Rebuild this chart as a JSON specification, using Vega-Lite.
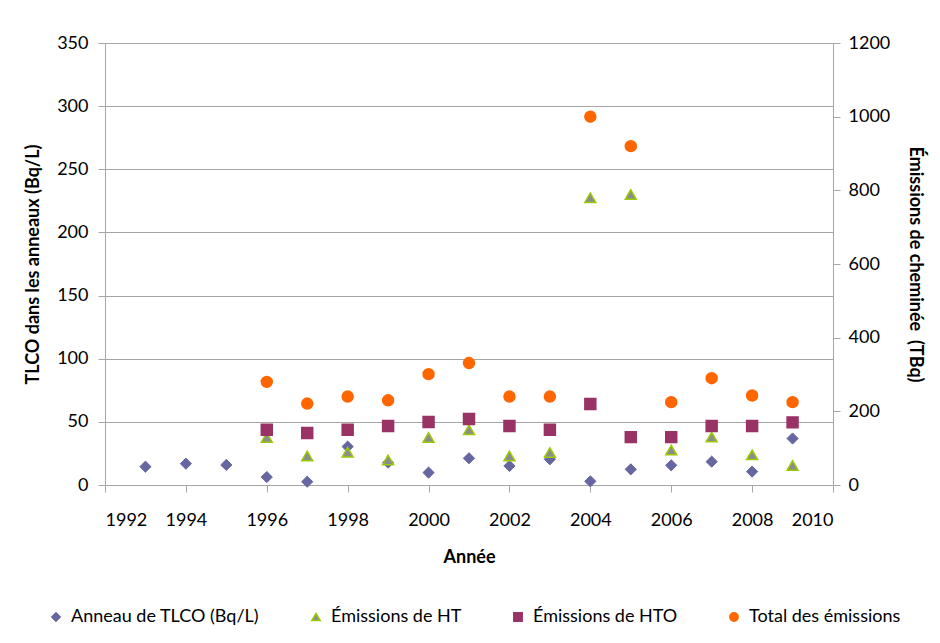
{
  "$schema": "https://vega.github.io/schema/vega-lite/v6.json",
  "autosize": "none",
  "width": 728,
  "height": 442,
  "padding": {"left": 105, "top": 43, "right": 107, "bottom": 158},
  "background": "white",
  "config": {
    "font": "Lato",
    "view": {"stroke": null},
    "axis": {
      "labelFont": "Lato",
      "titleFont": "Lato",
      "labelFontSize": 18,
      "titleFontSize": 18,
      "labelColor": "#000000",
      "titleColor": "#000000",
      "titleFontWeight": "bold",
      "domainColor": "#A6A6A6",
      "tickColor": "#A6A6A6",
      "gridColor": "#A6A6A6",
      "tickSize": 7
    }
  },
  "data": {
    "values": [
      {"annee": 1993, "serie": "Anneau de TLCO (Bq/L)", "valeur": 14.5},
      {"annee": 1994, "serie": "Anneau de TLCO (Bq/L)", "valeur": 16.9},
      {"annee": 1995, "serie": "Anneau de TLCO (Bq/L)", "valeur": 15.9},
      {"annee": 1996, "serie": "Anneau de TLCO (Bq/L)", "valeur": 6.3},
      {"annee": 1997, "serie": "Anneau de TLCO (Bq/L)", "valeur": 2.6},
      {"annee": 1998, "serie": "Anneau de TLCO (Bq/L)", "valeur": 30.4},
      {"annee": 1999, "serie": "Anneau de TLCO (Bq/L)", "valeur": 17.7},
      {"annee": 2000, "serie": "Anneau de TLCO (Bq/L)", "valeur": 9.8},
      {"annee": 2001, "serie": "Anneau de TLCO (Bq/L)", "valeur": 21.2},
      {"annee": 2002, "serie": "Anneau de TLCO (Bq/L)", "valeur": 15.1},
      {"annee": 2003, "serie": "Anneau de TLCO (Bq/L)", "valeur": 20.4},
      {"annee": 2004, "serie": "Anneau de TLCO (Bq/L)", "valeur": 2.9},
      {"annee": 2005, "serie": "Anneau de TLCO (Bq/L)", "valeur": 12.4},
      {"annee": 2006, "serie": "Anneau de TLCO (Bq/L)", "valeur": 15.6},
      {"annee": 2007, "serie": "Anneau de TLCO (Bq/L)", "valeur": 18.5},
      {"annee": 2008, "serie": "Anneau de TLCO (Bq/L)", "valeur": 10.6},
      {"annee": 2009, "serie": "Anneau de TLCO (Bq/L)", "valeur": 36.8},
      {"annee": 1996, "serie": "Émissions de HT", "valeur": 129},
      {"annee": 1997, "serie": "Émissions de HT", "valeur": 79},
      {"annee": 1998, "serie": "Émissions de HT", "valeur": 89},
      {"annee": 1999, "serie": "Émissions de HT", "valeur": 68},
      {"annee": 2000, "serie": "Émissions de HT", "valeur": 129},
      {"annee": 2001, "serie": "Émissions de HT", "valeur": 150},
      {"annee": 2002, "serie": "Émissions de HT", "valeur": 79},
      {"annee": 2003, "serie": "Émissions de HT", "valeur": 88},
      {"annee": 2004, "serie": "Émissions de HT", "valeur": 780},
      {"annee": 2005, "serie": "Émissions de HT", "valeur": 789},
      {"annee": 2006, "serie": "Émissions de HT", "valeur": 95},
      {"annee": 2007, "serie": "Émissions de HT", "valeur": 130},
      {"annee": 2008, "serie": "Émissions de HT", "valeur": 82},
      {"annee": 2009, "serie": "Émissions de HT", "valeur": 53},
      {"annee": 1996, "serie": "Émissions de HTO", "valeur": 150},
      {"annee": 1997, "serie": "Émissions de HTO", "valeur": 141},
      {"annee": 1998, "serie": "Émissions de HTO", "valeur": 150},
      {"annee": 1999, "serie": "Émissions de HTO", "valeur": 160},
      {"annee": 2000, "serie": "Émissions de HTO", "valeur": 171},
      {"annee": 2001, "serie": "Émissions de HTO", "valeur": 179},
      {"annee": 2002, "serie": "Émissions de HTO", "valeur": 160},
      {"annee": 2003, "serie": "Émissions de HTO", "valeur": 150},
      {"annee": 2004, "serie": "Émissions de HTO", "valeur": 220},
      {"annee": 2005, "serie": "Émissions de HTO", "valeur": 130},
      {"annee": 2006, "serie": "Émissions de HTO", "valeur": 130},
      {"annee": 2007, "serie": "Émissions de HTO", "valeur": 160},
      {"annee": 2008, "serie": "Émissions de HTO", "valeur": 160},
      {"annee": 2009, "serie": "Émissions de HTO", "valeur": 170},
      {"annee": 1996, "serie": "Total des émissions", "valeur": 280},
      {"annee": 1997, "serie": "Total des émissions", "valeur": 221},
      {"annee": 1998, "serie": "Total des émissions", "valeur": 240},
      {"annee": 1999, "serie": "Total des émissions", "valeur": 230},
      {"annee": 2000, "serie": "Total des émissions", "valeur": 301},
      {"annee": 2001, "serie": "Total des émissions", "valeur": 331},
      {"annee": 2002, "serie": "Total des émissions", "valeur": 240},
      {"annee": 2003, "serie": "Total des émissions", "valeur": 240},
      {"annee": 2004, "serie": "Total des émissions", "valeur": 1000},
      {"annee": 2005, "serie": "Total des émissions", "valeur": 920},
      {"annee": 2006, "serie": "Total des émissions", "valeur": 225},
      {"annee": 2007, "serie": "Total des émissions", "valeur": 290},
      {"annee": 2008, "serie": "Total des émissions", "valeur": 243},
      {"annee": 2009, "serie": "Total des émissions", "valeur": 225}
    ]
  },
  "encoding": {
    "x": {
      "field": "annee",
      "type": "quantitative",
      "scale": {"domain": [1992, 2010], "nice": false, "zero": false},
      "axis": {
        "title": "Année",
        "format": "d",
        "values": [1992, 1994, 1996, 1998, 2000, 2002, 2004, 2006, 2008, 2010],
        "grid": false,
        "labelPadding": 19,
        "titlePadding": 19
      }
    },
    "fill": {
      "field": "serie",
      "type": "nominal",
      "title": null,
      "scale": {
        "domain": ["Anneau de TLCO (Bq/L)", "Émissions de HT", "Émissions de HTO", "Total des émissions"],
        "range": ["#6666A0", "#8C8C8C", "#993366", "#FF6600"]
      },
      "legend": {
        "orient": "none",
        "legendX": -58,
        "legendY": 565,
        "direction": "horizontal",
        "columns": 4,
        "columnPadding": 47,
        "labelFontSize": 18,
        "labelFont": "Lato",
        "labelColor": "#000000",
        "labelLimit": 400,
        "symbolSize": 70,
        "symbolStrokeWidth": 1.5,
        "labelOffset": 6
      }
    },
    "stroke": {
      "field": "serie",
      "type": "nominal",
      "title": null,
      "scale": {
        "domain": ["Anneau de TLCO (Bq/L)", "Émissions de HT", "Émissions de HTO", "Total des émissions"],
        "range": ["#6666A0", "#99CC00", "#993366", "#FF6600"]
      }
    },
    "shape": {
      "field": "serie",
      "type": "nominal",
      "title": null,
      "scale": {
        "domain": ["Anneau de TLCO (Bq/L)", "Émissions de HT", "Émissions de HTO", "Total des émissions"],
        "range": ["diamond", "triangle-up", "square", "circle"]
      }
    }
  },
  "layer": [
    {
      "transform": [{"filter": "datum.serie === 'Anneau de TLCO (Bq/L)'"}],
      "mark": {"type": "point", "filled": true, "size": 125, "strokeWidth": 1, "opacity": 1},
      "encoding": {
        "y": {
          "field": "valeur",
          "type": "quantitative",
          "scale": {"domain": [0, 350], "nice": false},
          "axis": {
            "orient": "left",
            "title": "TLCO dans les anneaux (Bq/L)",
            "values": [0, 50, 100, 150, 200, 250, 300, 350],
            "grid": true,
            "labelPadding": 10,
            "titlePadding": 14
          }
        }
      }
    },
    {
      "transform": [{"filter": "datum.serie !== 'Anneau de TLCO (Bq/L)'"}],
      "mark": {"type": "point", "filled": true, "size": 120, "strokeWidth": 1.5, "opacity": 1},
      "encoding": {
        "y": {
          "field": "valeur",
          "type": "quantitative",
          "scale": {"domain": [0, 1200], "nice": false},
          "axis": {
            "orient": "right",
            "title": "Émissions de cheminée\u00a0 (TBq)",
            "format": "d",
            "values": [0, 200, 400, 600, 800, 1000, 1200],
            "grid": false,
            "labelPadding": 8,
            "titlePadding": 16
          }
        }
      }
    }
  ],
  "resolve": {"scale": {"y": "independent"}}
}
